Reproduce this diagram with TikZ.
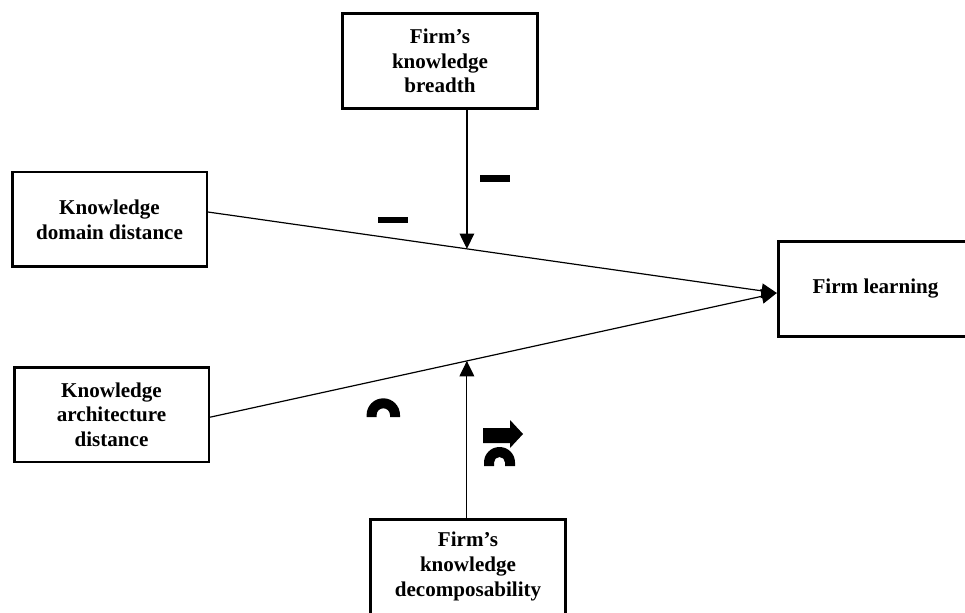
\documentclass[tikz,border=0pt]{standalone}
\usepackage{fontspec}
\setmainfont{Liberation Serif}
\usetikzlibrary{arrows.meta,calc}

\begin{document}
\begin{tikzpicture}[x=0.75pt,y=-0.75pt,
  varbox/.style={draw,line width=2pt,minimum width=146pt,minimum height=71pt,
    align=center,font=\fontsize{15.8}{18.5}\selectfont\bfseries},
  link/.style={line width=0.9pt,-{Triangle[length=11.5pt,width=11pt]}}]
  \useasboundingbox (0,0) rectangle (965,613);
  % variables
  \node[varbox] (breadth) at (440,61) {Firm’s\\knowledge\\breadth};
  \node[varbox] (domain) at (109.5,219.5) {Knowledge\\domain distance};
  \node[varbox] (archit) at (111.5,414.5) {Knowledge\\architecture\\distance};
  \node[varbox] (learning) at (875.5,289) {Firm learning};
  \node[varbox] (decomp) at (468,566.5) {Firm’s\\knowledge\\decomposability};
  % main effects
  \coordinate (d1) at ([yshift=5.6pt]domain.east);
  \coordinate (a1) at ([yshift=-2pt]archit.east);
  \coordinate (l1) at ([yshift=-3pt]learning.west);
  \draw[link] (d1) -- (l1);
  \draw[link] (a1) -- (l1);
  % moderators
  \coordinate (m1) at ($(d1)!0.455!(l1)$);
  \coordinate (m2) at ($(a1)!0.453!(l1)$);
  \draw[link] (breadth.south -| m1) -- (m1);
  \draw[link] (decomp.north -| m2) -- (m2);
  % signs
  \fill (378,217) rectangle (408,223);
  \fill (480,175) rectangle (510,182);
  \fill (366.6,417) -- (366.6,415) arc[start angle=180,end angle=360,radius=16.7]
    -- (400,417) -- (390,417) -- (390,415) arc[start angle=360,end angle=180,radius=6.7]
    -- (376.6,417) -- cycle;
  \fill (484,466) -- (484,462.5) arc[start angle=180,end angle=360,radius=15.5]
    -- (515,466) -- (505,466) -- (505,462.5) arc[start angle=360,end angle=180,radius=5.5]
    -- (494,466) -- cycle;
  \fill (483,428) -- (510,428) -- (510,420) -- (523,434) -- (510,448) -- (510,443)
    -- (483,443) -- cycle;
\end{tikzpicture}
\end{document}
